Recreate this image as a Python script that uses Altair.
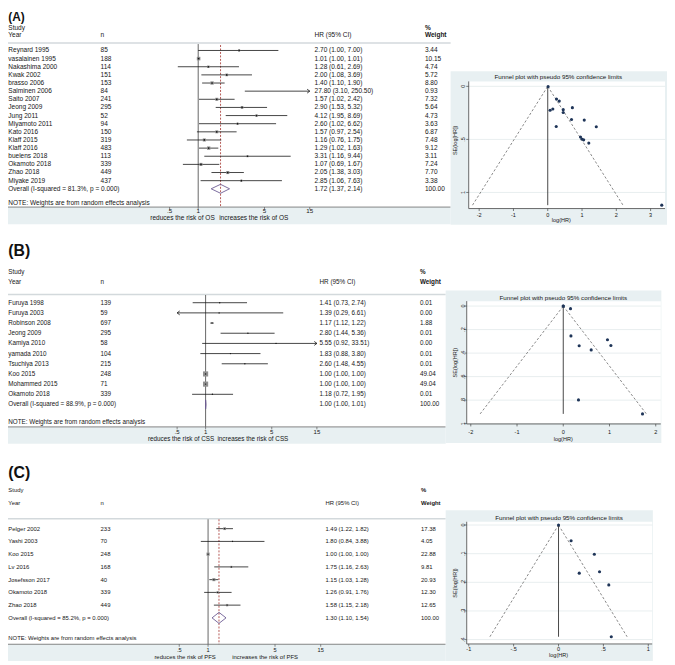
import math
import altair as alt
import pandas as pd

# ---------------- data ----------------
# (A) overall survival
names_A = ["Reynard 1995", "vasalainen 1995", "Nakashima 2000", "Kwak 2002", "brasso 2006",
           "Salminen 2006", "Saito 2007", "Jeong 2009", "Jung 2011", "Miyamoto 2011", "Kato 2016",
           "Klaff 2015", "Klaff 2016", "buelens 2018", "Okamoto 2018", "Zhao 2018", "Miyake 2019"]
n_A = [85, 188, 114, 151, 153, 84, 241, 295, 52, 94, 150, 319, 483, 113, 339, 449, 437]
hr_A = [2.70, 1.01, 1.28, 2.00, 1.40, 27.80, 1.57, 2.90, 4.12, 2.60, 1.57, 1.16, 1.29, 3.31, 1.07, 2.05, 2.85]
lo_A = [1.00, 1.00, 0.61, 1.08, 1.10, 3.10, 1.02, 1.53, 1.95, 1.02, 0.97, 0.76, 1.02, 1.16, 0.69, 1.38, 1.06]
hi_A = [7.00, 1.01, 2.69, 3.69, 1.90, 250.50, 2.42, 5.32, 8.69, 6.62, 2.54, 1.75, 1.63, 9.44, 1.67, 3.03, 7.63]
w_A = [3.44, 10.15, 4.74, 5.72, 8.80, 0.93, 7.32, 5.64, 4.73, 3.63, 6.87, 7.48, 9.12, 3.11, 7.24, 7.70, 3.38]
overall_A = [1.72, 1.37, 2.14]
isq_A = "81.3"

# (B) cancer-specific survival
names_B = ["Furuya 1998", "Furuya 2003", "Robinson 2008", "Jeong 2009", "Kamiya 2010", "yamada 2010",
           "Tsuchiya 2013", "Koo 2015", "Mohammed 2015", "Okamoto 2018"]
n_B = [139, 59, 697, 295, 58, 104, 215, 248, 71, 339]
hr_B = [1.41, 1.39, 1.17, 2.80, 5.55, 1.83, 2.60, 1.00, 1.00, 1.18]
lo_B = [0.73, 0.29, 1.12, 1.44, 0.92, 0.88, 1.48, 1.00, 1.00, 0.72]
hi_B = [2.74, 6.61, 1.22, 5.36, 33.51, 3.80, 4.55, 1.00, 1.00, 1.95]
w_B = [0.01, 0.00, 1.88, 0.01, 0.00, 0.01, 0.01, 49.04, 49.04, 0.01]
overall_B = [1.00, 1.00, 1.01]
isq_B = "88.9"

# (C) progression-free survival
names_C = ["Pelger 2002", "Yashi 2003", "Koo 2015", "Lv 2016", "Josefsson 2017", "Okamoto 2018", "Zhao 2018"]
n_C = [233, 70, 248, 168, 40, 339, 449]
hr_C = [1.49, 1.80, 1.00, 1.75, 1.15, 1.26, 1.58]
lo_C = [1.22, 0.84, 1.00, 1.16, 1.03, 0.91, 1.15]
hi_C = [1.82, 3.88, 1.00, 2.63, 1.28, 1.76, 2.18]
w_C = [17.38, 4.05, 22.88, 9.81, 20.93, 12.30, 12.65]
overall_C = [1.30, 1.10, 1.54]
isq_C = "85.2"

# funnel points: log(HR) and SE(log[HR])
fx_A = [0.993, 0.010, 0.247, 0.693, 0.336, 3.325, 0.451, 1.065, 1.416, 0.956, 0.451, 0.148, 0.255, 1.197, 0.068, 0.718, 1.047]
fse_A = [0.496, 0.003, 0.379, 0.313, 0.139, 1.120, 0.220, 0.318, 0.381, 0.477, 0.246, 0.213, 0.120, 0.535, 0.225, 0.201, 0.504]
fx_B = [0.344, 0.329, 0.157, 1.030, 1.714, 0.604, 0.956, 0.000, 0.000, 0.166]
fse_B = [0.337, 0.798, 0.022, 0.335, 0.917, 0.373, 0.287, 0.000, 0.000, 0.254]
fx_C = [0.399, 0.588, 0.000, 0.560, 0.140, 0.231, 0.457]
fse_C = [0.102, 0.390, 0.000, 0.209, 0.055, 0.168, 0.163]

# tick labels
forest_ticks = [0.5, 1, 5, 15]
forest_tick_labels = [".5", "1", "5", "15"]
forest_range = [0.5, 15]
funA_xt = [-2, -1, 0, 1, 2, 3]
funA_xl = ["-2", "-1", "0", "1", "2", "3"]
funA_yt = [0, 0.5, 1]
funA_yl = ["0", ".5", "1"]
funB_xt = [-2, -1, 0, 1, 2]
funB_xl = ["-2", "-1", "0", "1", "2"]
funB_yt = [0, 0.2, 0.4, 0.6, 0.8, 1]
funB_yl = ["0", ".2", ".4", ".6", ".8", "1"]
funC_xt = [-1, -0.5, 0, 0.5, 1]
funC_xl = ["-1", "-.5", "0", ".5", "1"]
funC_yt = [0, 0.1, 0.2, 0.3, 0.4]
funC_yl = ["0", ".1", ".2", ".3", ".4"]

# ---------------- styling / layout ----------------
FONT = "Liberation Sans"
OFF = 8.0
INK = "#161616"
BAND = "#e8f0f2"
ONE = pd.DataFrame({"k": [0]})
layers = []


def P(v):
    return v - OFF


def txt(x, y, s, size=6.6, align="left", bold=False, angle=None, color=INK, baseline="middle"):
    kw = dict(text=s, align=align, baseline=baseline, fontSize=size, font=FONT, color=color)
    if bold:
        kw["fontWeight"] = "bold"
    if angle is not None:
        kw["angle"] = angle
    layers.append(alt.Chart(ONE).mark_text(**kw).encode(
        x=alt.value(max(P(x), 0.3)), y=alt.value(max(P(y), 0))))


def box(x0, x1, y0, y1, fill):
    layers.append(alt.Chart(ONE).mark_rect(color=fill).encode(
        x=alt.value(P(x0)), x2=alt.value(P(x1)), y=alt.value(P(y0)), y2=alt.value(P(y1))))


def hline(x0, x1, y, color, width=1.0):
    layers.append(alt.Chart(ONE).mark_rule(color=color, strokeWidth=width).encode(
        x=alt.value(P(x0)), x2=alt.value(P(x1)), y=alt.value(P(y))))


def vline(x, y0, y1, color, width=1.0):
    layers.append(alt.Chart(ONE).mark_rule(color=color, strokeWidth=width).encode(
        x=alt.value(P(x)), y=alt.value(P(y0)), y2=alt.value(P(y1))))


def forest(G, names, ns, hr, lo, hi, w, ov, isq, outcome, label):
    n = len(names)
    fs = G["fs"]
    k, x1 = G["k"], G["x1"]
    D = 4.0
    xsc = alt.Scale(type="log", domain=[math.exp(-D), math.exp(D)],
                    range=[P(x1 - D * k), P(x1 + D * k)], nice=False)
    ysc = alt.Scale(domain=[0, n], range=[P(G["row0"]), P(G["rowN"])], zero=False, nice=False)
    R = G["right"]

    def X(f):
        return alt.X(f"{f}:Q", scale=xsc, axis=None)

    Y = alt.Y("row:Q", scale=ysc, axis=None)

    box(0, R, G["axis_y"], G["band_bot"], BAND)
    hline(0, R, G["sep_y"], "#d3d9dc", 1.6)

    # null line and overall dashed line
    layers.append(alt.Chart(pd.DataFrame({"x": [1.0]})).mark_rule(color="#555555", strokeWidth=0.9).encode(
        x=X("x"), y=alt.value(P(G["null_top"])), y2=alt.value(P(G["axis_y"]))))
    if G["dashed"]:
        layers.append(alt.Chart(pd.DataFrame({"x": [ov[0]]})).mark_rule(
            color="#a3302b", strokeWidth=0.8, strokeDash=[2, 1.5]).encode(
            x=X("x"), y=alt.value(P(G["dash_top"])), y2=alt.value(P(G["axis_y"]))))

    lo_lim, hi_lim = forest_range
    df = pd.DataFrame({"row": list(range(n)), "hr": hr, "lo": lo, "hi": hi, "w": w})
    df["lo_c"] = df["lo"].clip(lo_lim, hi_lim)
    df["hi_c"] = df["hi"].clip(lo_lim, hi_lim)
    ci = df[df["hi"] > df["lo"]]
    layers.append(alt.Chart(ci).mark_rule(color=INK, strokeWidth=0.8).encode(
        x=X("lo_c"), x2=alt.X2("hi_c"), y=Y))
    vis = df[(df["hr"] >= lo_lim) & (df["hr"] <= hi_lim)]
    maxw = max(w)
    layers.append(alt.Chart(vis[vis["w"] > 0]).mark_square(color="#8f8f8f", opacity=1).encode(
        x=X("hr"), y=Y,
        size=alt.Size("w:Q", scale=alt.Scale(domain=[0, maxw], range=[0, G["box_side"] ** 2]), legend=None)))
    layers.append(alt.Chart(vis).mark_point(shape="circle", filled=True, color=INK, opacity=1,
                                            size=G["dot"]).encode(x=X("hr"), y=Y))
    right = df[df["hi"] > hi_lim]
    if len(right):
        layers.append(alt.Chart(right).mark_point(shape="M-1,-0.75L0,0L-1,0.75", filled=False, color=INK,
                                                  strokeWidth=0.8, size=28, opacity=1).encode(x=X("hi_c"), y=Y))
    left = df[df["lo"] < lo_lim]
    if len(left):
        layers.append(alt.Chart(left).mark_point(shape="M1,-0.75L0,0L1,0.75", filled=False, color=INK,
                                                 strokeWidth=0.8, size=28, opacity=1).encode(x=X("lo_c"), y=Y))
    h = G["dh"]
    dia = pd.DataFrame({"x": [ov[1], ov[0], ov[2], ov[0], ov[1]],
                        "row": [n, n - h, n, n + h, n], "o": [0, 1, 2, 3, 4]})
    layers.append(alt.Chart(dia).mark_line(color="#6b5a93", strokeWidth=0.9).encode(
        x=X("x"), y=Y, order="o:Q"))

    # text columns
    tdf = pd.DataFrame({
        "row": list(range(n + 1)),
        "name": names + [f"Overall  (I-squared = {isq}%, p = 0.000)"],
        "n": [str(v) for v in ns] + [""],
        "hrt": [f"{a:.2f} ({b:.2f}, {c:.2f})" for a, b, c in zip(hr, lo, hi)]
               + [f"{ov[0]:.2f} ({ov[1]:.2f}, {ov[2]:.2f})"],
        "wt": [f"{v:.2f}" for v in w] + ["100.00"],
    })
    for col, x in [("name", G["col_name"]), ("n", G["col_n"]), ("hrt", G["col_hr"]), ("wt", G["col_w"])]:
        layers.append(alt.Chart(tdf).mark_text(align="left", baseline="middle", fontSize=fs, font=FONT,
                                               color=INK).encode(
            x=alt.value(max(P(x), 0.3)), y=Y, text=f"{col}:N"))

    # headers
    txt(G["label_x"], G["label_y"], label, size=G["label_fs"], bold=True, baseline="top", color="#111111")
    txt(G["col_name"], G["study_y"], "Study", size=fs)
    txt(G["col_name"], G["head_y"], "Year", size=fs)
    txt(G["col_n"], G["head_y"], "n", size=fs)
    txt(G["col_hr"], G["head_y"], "HR (95% CI)", size=fs)
    txt(G["col_w"], G["pct_y"], "%", size=fs, bold=True)
    txt(G["col_w"], G["head_y"], "Weight", size=fs, bold=True)
    txt(G["col_name"], G["note_y"], "NOTE: Weights are from random effects analysis", size=fs)

    # axis
    hline(0, R, G["axis_y"], "#666666", 0.8)
    tdf2 = pd.DataFrame({"t": forest_ticks, "lab": forest_tick_labels})
    layers.append(alt.Chart(tdf2).mark_rule(color="#555555", strokeWidth=0.7).encode(
        x=X("t"), y=alt.value(P(G["axis_y"])), y2=alt.value(P(G["axis_y"] + 2.5))))
    layers.append(alt.Chart(tdf2).mark_text(align="center", baseline="middle", fontSize=fs - 0.3, font=FONT,
                                            color=INK).encode(
        x=X("t"), y=alt.value(P(G["tick_lab_y"])), text="lab:N"))
    txt(G["title_l_end"], G["title_y"], f"reduces the risk of {outcome}", size=fs, align="right")
    txt(G["title_r_start"], G["title_y"], f"increases the risk of {outcome}", size=fs, align="left")


def funnel(G, fx, fse, xt, xl, yt, yl):
    L, R, T, B = G["plot"]
    dx0 = (L - G["x0"]) / G["kx"]
    dx1 = (R - G["x0"]) / G["kx"]
    dy0 = (T - G["y0"]) / G["ky"]
    dy1 = (B - G["y0"]) / G["ky"]
    xsc = alt.Scale(domain=[dx0, dx1], range=[P(L), P(R)], zero=False, nice=False)
    ysc = alt.Scale(domain=[dy0, dy1], range=[P(T), P(B)], zero=False, nice=False)
    bx0, bx1, by0, by1 = G["bg"]
    box(bx0, bx1, by0, by1, BAND)
    box(L, R, T, B, "#ffffff")
    txt(G["title_x"], G["title_y"], "Funnel plot with pseudo 95% confidence limits", size=6.3, align="center")

    ydf = pd.DataFrame({"v": yt, "lab": yl})
    xdf = pd.DataFrame({"v": xt, "lab": xl})
    YV = alt.Y("v:Q", scale=ysc, axis=None)
    XV = alt.X("v:Q", scale=xsc, axis=None)
    layers.append(alt.Chart(ydf).mark_rule(color="#e2e9eb", strokeWidth=0.8).encode(
        y=YV, x=alt.value(P(L)), x2=alt.value(P(R))))
    vline(L, T, B, "#444444", 0.8)
    hline(L, R, B, "#444444", 0.8)
    layers.append(alt.Chart(ydf).mark_rule(color="#444444", strokeWidth=0.7).encode(
        y=YV, x=alt.value(P(L) - 2.5), x2=alt.value(P(L))))
    layers.append(alt.Chart(ydf).mark_text(align="center", baseline="middle", fontSize=5.6, font=FONT,
                                           color=INK, angle=270).encode(
        y=YV, x=alt.value(P(G["ylab_x"])), text="lab:N"))
    layers.append(alt.Chart(xdf).mark_rule(color="#444444", strokeWidth=0.7).encode(
        x=XV, y=alt.value(P(B)), y2=alt.value(P(B) + 2.5)))
    layers.append(alt.Chart(xdf).mark_text(align="center", baseline="middle", fontSize=5.6, font=FONT,
                                           color=INK).encode(
        x=XV, y=alt.value(P(G["xlab_y"])), text="lab:N"))
    txt(G["xtitle_x"], G["xtitle_y"], "log(HR)", size=5.6, align="center")
    txt(G["ytitle_x"], G["ytitle_y"], "SE(log[HR])", size=5.6, align="center", angle=270)

    m = max(fse)
    lines = pd.DataFrame({"side": ["l", "l", "r", "r"], "x": [0, -1.96 * m, 0, 1.96 * m], "y": [0, m, 0, m]})
    layers.append(alt.Chart(lines).mark_line(color="#6a6a6a", strokeWidth=0.8, strokeDash=[2.5, 2]).encode(
        x=alt.X("x:Q", scale=xsc, axis=None), y=alt.Y("y:Q", scale=ysc, axis=None), detail="side:N"))
    layers.append(alt.Chart(pd.DataFrame({"x": [0.0], "y": [0.0], "y2": [m]})).mark_rule(
        color="#333333", strokeWidth=0.9).encode(
        x=alt.X("x:Q", scale=xsc, axis=None), y=alt.Y("y:Q", scale=ysc, axis=None), y2="y2:Q"))
    pts = pd.DataFrame({"x": fx, "y": fse})
    layers.append(alt.Chart(pts).mark_circle(size=10, color="#1f3558", opacity=1).encode(
        x=alt.X("x:Q", scale=xsc, axis=None), y=alt.Y("y:Q", scale=ysc, axis=None)))


GA = dict(label_x=2, label_y=1.0, label_fs=12, study_y=24.3, head_y=31.7, pct_y=24.3, sep_y=39.5, right=456,
          row0=47.0, rowN=187.0, note_y=201.3, axis_y=205.5, band_bot=223, tick_lab_y=209.8,
          title_y=216.8, x1=200.5, k=41.7, col_name=7, col_n=101.7,
          col_hr=318.3, col_w=430, null_top=40.5, dashed=True, dash_top=41.5, dh=0.55,
          title_l_end=217.3, title_r_start=221.7, fs=6.6, box_side=3.6, dot=3)
GB = dict(label_x=2, label_y=242, label_fs=16, study_y=271.7, head_y=281.5, pct_y=271, sep_y=294, right=451,
          row0=302.3, rowN=405.3, note_y=422.7, axis_y=428, band_bot=445, tick_lab_y=433,
          title_y=440.5, x1=208, k=41.6, col_name=7, col_n=101.7,
          col_hr=323.3, col_w=425, null_top=294.5, dashed=False, dash_top=295, dh=0.45,
          title_l_end=216.7, title_r_start=220, fs=6.4, box_side=5.2, dot=2)
GC = dict(label_x=3, label_y=467, label_fs=16, study_y=491.7, head_y=505, pct_y=491.7, sep_y=521, right=451,
          row0=531, rowN=621.3, note_y=642, axis_y=648, band_bot=665, tick_lab_y=653.5,
          title_y=660.5, x1=210.5, k=42.1, col_name=7, col_n=101.7,
          col_hr=329.3, col_w=426, null_top=521.5, dashed=True, dash_top=521.5, dh=0.43,
          title_l_end=218.3, title_r_start=235, fs=6.0, box_side=3.2, dot=2)

FA = dict(bg=(456, 675, 68, 223.5), title_x=565, title_y=74.3, plot=(474.3, 673, 78.3, 207),
          x0=554.3, kx=34.7, y0=83.3, ky=107.4, xlab_y=213.3, xtitle_x=568, xtitle_y=218.5,
          ylab_x=469, ytitle_x=460.7, ytitle_y=138)
FB = dict(bg=(451, 669.3, 290, 444.3), title_x=570, title_y=297.3, plot=(472.3, 668.7, 300.7, 425),
          x0=570, kx=46.8, y0=305.7, ky=119, xlab_y=433.3, xtitle_x=570, xtitle_y=440.7,
          ylab_x=468.5, ytitle_x=460.7, ytitle_y=363)
FC = dict(bg=(451, 660.7, 512.3, 665), title_x=565.7, title_y=520, plot=(472.3, 660, 524, 647.7),
          x0=565.2, kx=90.85, y0=527.3, ky=290, xlab_y=652.7, xtitle_x=565.2, xtitle_y=659.3,
          ylab_x=468.5, ytitle_x=460.7, ytitle_y=586)

forest(GA, names_A, n_A, hr_A, lo_A, hi_A, w_A, overall_A, isq_A, "OS", "(A)")
forest(GB, names_B, n_B, hr_B, lo_B, hi_B, w_B, overall_B, isq_B, "CSS", "(B)")
forest(GC, names_C, n_C, hr_C, lo_C, hi_C, w_C, overall_C, isq_C, "PFS", "(C)")
funnel(FA, fx_A, fse_A, funA_xt, funA_xl, funA_yt, funA_yl)
funnel(FB, fx_B, fse_B, funB_xt, funB_xl, funB_yt, funB_yl)
funnel(FC, fx_C, fse_C, funC_xt, funC_xl, funC_yt, funC_yl)

chart = alt.layer(*layers).resolve_scale(
    x="independent", y="independent", size="independent"
).properties(
    width=667, height=657, autosize=alt.AutoSizeParams(type="none"), padding=0, background="white"
).configure_view(stroke=None)

chart.save("out.html", embed_options={"renderer": "svg", "actions": False})
